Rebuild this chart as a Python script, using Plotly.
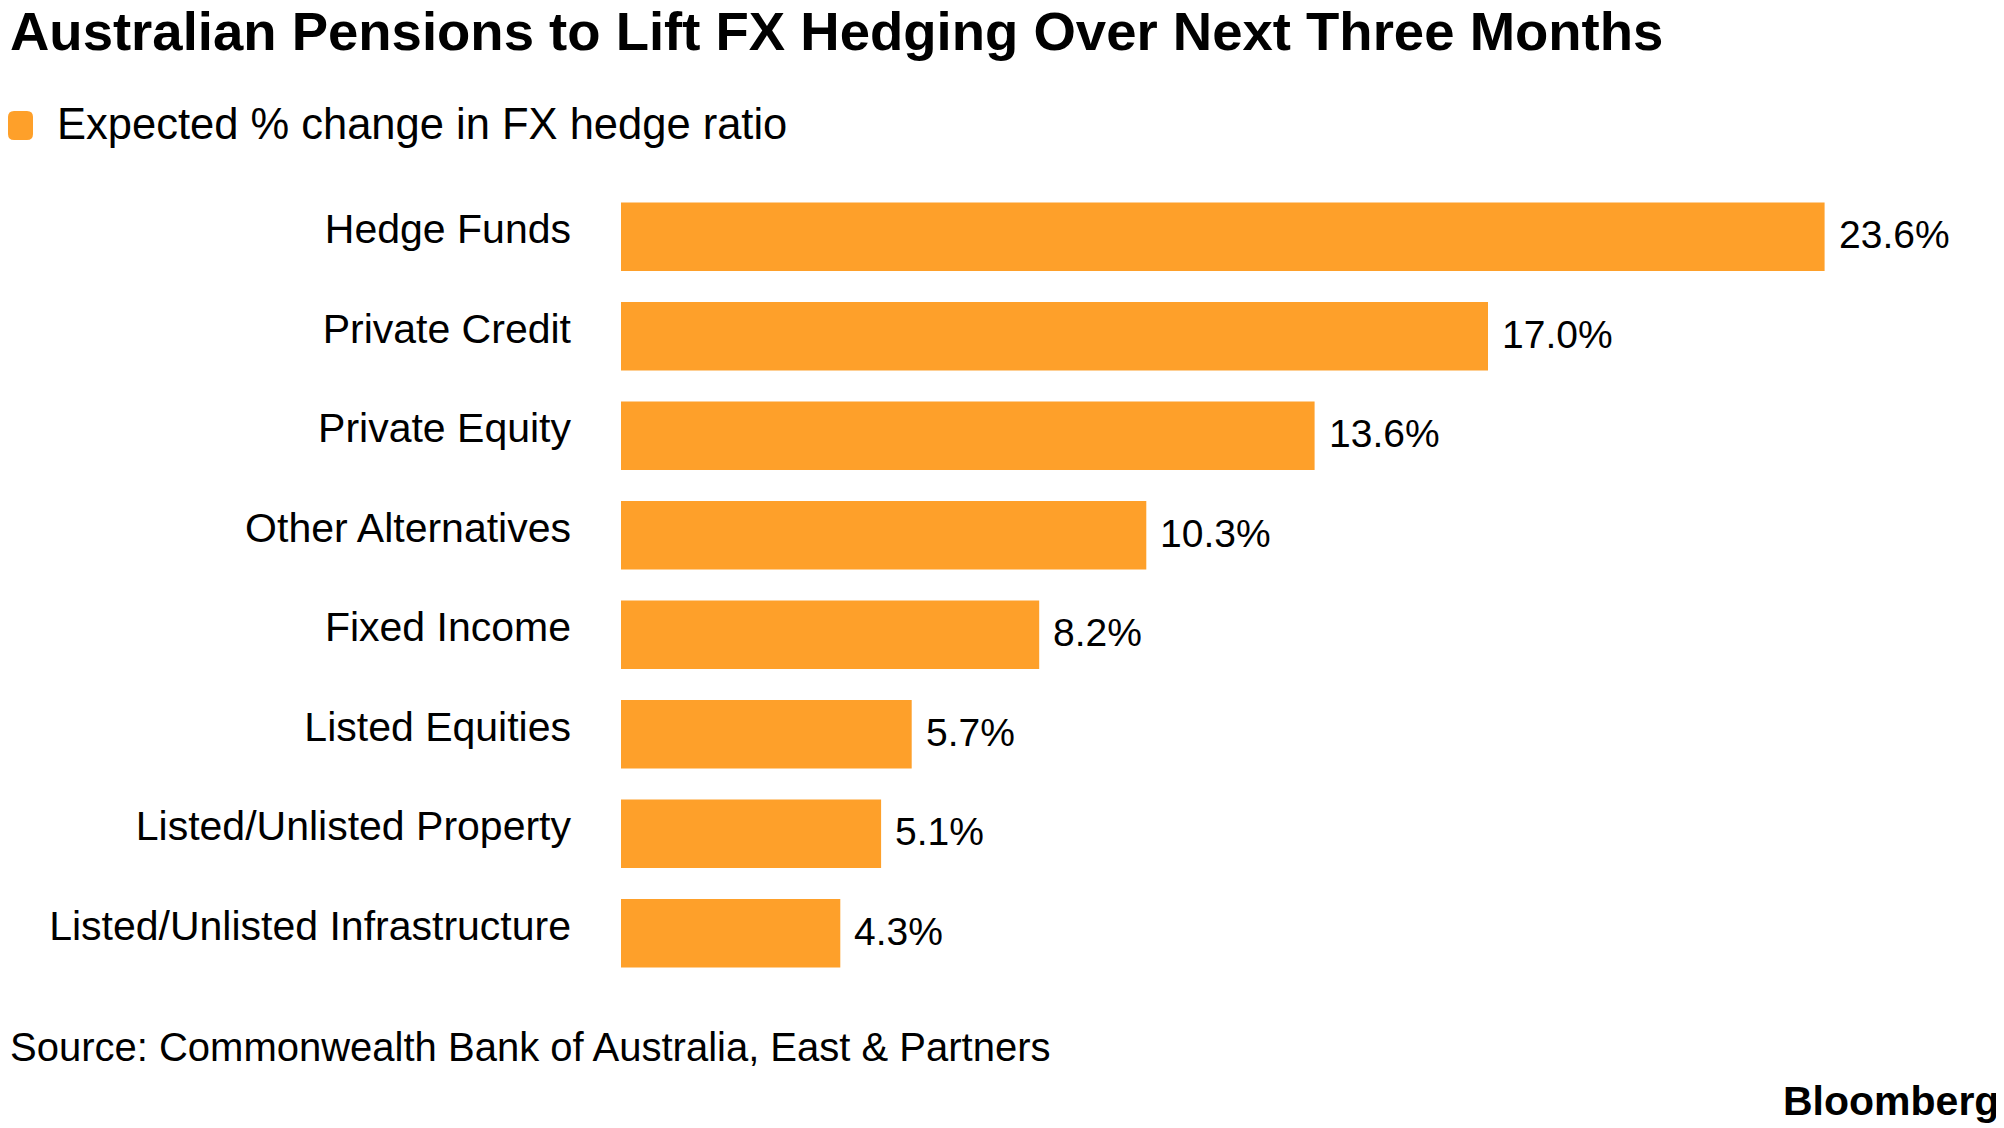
import plotly.graph_objects as go

categories = [
    "Hedge Funds",
    "Private Credit",
    "Private Equity",
    "Other Alternatives",
    "Fixed Income",
    "Listed Equities",
    "Listed/Unlisted Property",
    "Listed/Unlisted Infrastructure",
]
values = [23.6, 17.0, 13.6, 10.3, 8.2, 5.7, 5.1, 4.3]
value_labels = ["23.6%", "17.0%", "13.6%", "10.3%", "8.2%", "5.7%", "5.1%", "4.3%"]

title_text = "Australian Pensions to Lift FX Hedging Over Next Three Months"
legend_text = "Expected % change in FX hedge ratio"
source_text = "Source: Commonwealth Bank of Australia, East & Partners"
brand_text = "Bloomberg"

BAR_COLOR = "#fea02a"
FONT = "Liberation Sans, Arial, sans-serif"

# page offset (default body margin of the html page)
OFF = 8
W, H = 2004 - OFF, 1128 - OFF
ML, MT = 621 - OFF, 187 - OFF
PW, PH = 1369, 796
MR = W - ML - PW
MB = H - MT - PH
px_per_unit = 51.0
xmax = PW / px_per_unit


def sx(px):
    """screen x pixel -> paper x"""
    return (px - OFF - ML) / PW


def sy(py):
    """screen y pixel -> paper y"""
    return (H - MB - (py - OFF)) / PH


fig = go.Figure()
fig.add_trace(go.Bar(
    x=values,
    y=categories,
    orientation="h",
    marker=dict(color=BAR_COLOR, line=dict(width=0)),
    width=0.69,
    showlegend=False,
    hoverinfo="skip",
))

annotations = []
for c, v, t in zip(categories, values, value_labels):
    annotations.append(dict(
        x=v, y=c, xref="x", yref="y", text=t, showarrow=False,
        xanchor="left", yanchor="middle", xshift=12, yshift=2,
        font=dict(family=FONT, size=39, color="#000000"),
    ))

annotations += [
    dict(x=sx(OFF), y=sy(32), xref="paper", yref="paper", text="<b>" + title_text + "</b>",
         showarrow=False, xanchor="left", yanchor="middle",
         font=dict(family=FONT, size=54.5, color="#000000")),
    dict(x=sx(55), y=sy(124), xref="paper", yref="paper", text=legend_text,
         showarrow=False, xanchor="left", yanchor="middle",
         font=dict(family=FONT, size=43.5, color="#000000")),
    dict(x=sx(OFF), y=sy(1047), xref="paper", yref="paper", text=source_text,
         showarrow=False, xanchor="left", yanchor="middle",
         font=dict(family=FONT, size=40, color="#000000")),
    dict(x=sx(2001), y=sy(1101), xref="paper", yref="paper", text="<b>" + brand_text + "</b>",
         showarrow=False, xanchor="right", yanchor="middle",
         font=dict(family=FONT, size=41, color="#000000")),
]

# legend swatch (rounded square)
x0, x1, y0, y1, r = 8, 33, 111, 140, 6
P = lambda a, b: f"{sx(a)},{sy(b)}"
path = (
    f"M {P(x0 + r, y0)} L {P(x1 - r, y0)} Q {P(x1, y0)} {P(x1, y0 + r)} "
    f"L {P(x1, y1 - r)} Q {P(x1, y1)} {P(x1 - r, y1)} "
    f"L {P(x0 + r, y1)} Q {P(x0, y1)} {P(x0, y1 - r)} "
    f"L {P(x0, y0 + r)} Q {P(x0, y0)} {P(x0 + r, y0)} Z"
)

fig.update_layout(
    width=W, height=H,
    margin=dict(l=ML, r=MR, t=MT, b=MB, autoexpand=False),
    paper_bgcolor="white", plot_bgcolor="white",
    xaxis=dict(range=[0, xmax], visible=False, fixedrange=True),
    yaxis=dict(
        categoryorder="array", categoryarray=categories,
        range=[len(categories) - 0.5, -0.5],
        showgrid=False, zeroline=False, showline=False, ticks="",
        ticklabelstandoff=49,
        ticklabelshift=8,
        tickfont=dict(family=FONT, size=41, color="#000000"),
        fixedrange=True,
    ),
    annotations=annotations,
    shapes=[dict(type="path", xref="paper", yref="paper", path=path,
                 fillcolor=BAR_COLOR, line=dict(width=0))],
)

fig.write_html("out.html")
